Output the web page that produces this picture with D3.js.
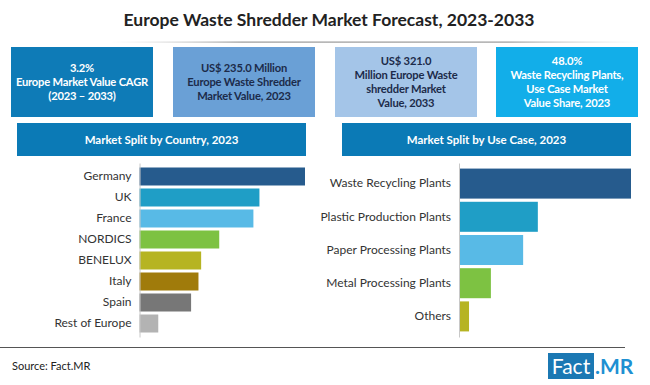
<!DOCTYPE html>
<html>
<head>
<meta charset="utf-8">
<script src="https://cdn.jsdelivr.net/npm/d3@7"></script>
<style>
  body { margin: 0; background: #fff; }
  svg { display: block; font-family: Lato, "Open Sans", sans-serif; }
</style>
</head>
<body>
<script>
// chart values
var countries = ["Germany", "UK", "France", "NORDICS", "BENELUX", "Italy", "Spain", "Rest of Europe"];
var countryShare = [24.7, 17.9, 17.0, 11.9, 9.2, 8.8, 7.7, 2.8];
var countryColors = ["#265b8d", "#1f9ec6", "#58bae6", "#7dc242", "#b6b422", "#a07b0b", "#777777", "#b3b3b3"];

var useCases = ["Waste Recycling Plants", "Plastic Production Plants", "Paper Processing Plants", "Metal Processing Plants", "Others"];
var useCaseShare = [48.0, 22.0, 17.9, 8.9, 2.8];
var useCaseColors = ["#265b8d", "#1f9ec6", "#58bae6", "#7dc242", "#b6b422"];

var kpiLines = [
    ["3.2%", "Europe Market Value CAGR", "(2023 \u2013 2033)"],
    ["US$ 235.0 Million", "Europe Waste Shredder", "Market Value, 2023"],
    ["US$ 321.0", "Million Europe Waste", "shredder Market", "Value, 2033"],
    ["48.0%", "Waste Recycling Plants,", "Use Case Market", "Value Share, 2023"]
];
var kpiFill = ["#0e7bb7", "#6aa0d6", "#a4c5e8", "#12aee9"];
var kpiText = ["#ffffff", "#1c2b4a", "#1c2b4a", "#ffffff"];

var canvas = d3.select("body").append("svg")
    .attr("width", 650)
    .attr("height", 385);

// title
canvas.append("text")
    .attr("x", 329)
    .attr("y", 26)
    .attr("text-anchor", "middle")
    .attr("font-size", 17.5)
    .attr("font-weight", "bold")
    .attr("fill", "#222")
    .text("Europe Waste Shredder Market Forecast, 2023-2033");

var grad = canvas.append("defs").append("linearGradient")
    .attr("id", "rule");
grad.append("stop").attr("offset", "0%").attr("stop-color", "#ccc").attr("stop-opacity", 0);
grad.append("stop").attr("offset", "25%").attr("stop-color", "#999");
grad.append("stop").attr("offset", "75%").attr("stop-color", "#999");
grad.append("stop").attr("offset", "100%").attr("stop-color", "#ccc").attr("stop-opacity", 0);
canvas.append("rect")
    .attr("x", 110).attr("y", 41.5)
    .attr("width", 530).attr("height", 1.2)
    .attr("fill", "url(#rule)");

// kpi boxes
var boxX = [11, 173, 335, 496];
kpiLines.forEach(function(lines, i){
    canvas.append("rect")
        .attr("x", boxX[i])
        .attr("y", 47)
        .attr("width", 142)
        .attr("height", 70)
        .attr("fill", kpiFill[i]);
    var top = 82 - (lines.length - 1) * 14 / 2;
    lines.forEach(function(t, j){
        canvas.append("text")
            .attr("x", boxX[i] + 71)
            .attr("y", top + j * 14)
            .attr("dy", "0.35em")
            .attr("text-anchor", "middle")
            .attr("font-size", 11.2)
            .attr("letter-spacing", -0.2)
            .attr("font-weight", "bold")
            .attr("fill", kpiText[i])
            .text(t);
    });
});

function panel(x0, title, axisX, rightX, cats, vals, colors, pad){
    canvas.append("rect")
        .attr("x", x0)
        .attr("y", 123)
        .attr("width", 289)
        .attr("height", 33)
        .attr("fill", "#0b7ab6");
    canvas.append("text")
        .attr("x", x0 + 144.5)
        .attr("y", 139.5)
        .attr("dy", "0.35em")
        .attr("text-anchor", "middle")
        .attr("font-size", 11.5)
        .attr("font-weight", "bold")
        .attr("fill", "#fff")
        .text(title);

    var y = d3.scaleBand()
        .domain(cats)
        .range([163, 337])
        .paddingInner(pad[0])
        .paddingOuter(pad[1]);
    var x = d3.scaleLinear()
        .domain([0, d3.max(vals)])
        .range([axisX, rightX]);

    canvas.append("g")
        .selectAll("rect")
        .data(cats)
        .join("rect")
        .attr("x", x(0))
        .attr("y", function(d){ return y(d); })
        .attr("width", function(d, i){ return x(vals[i]) - x(0); })
        .attr("height", y.bandwidth())
        .attr("fill", function(d, i){ return colors[i]; });

    var ax = canvas.append("g")
        .attr("transform", "translate(" + axisX + ",0)")
        .call(d3.axisLeft(y).tickSize(0).tickPadding(8));
    ax.select(".domain").attr("stroke", "#c8c8c8");
    ax.selectAll("text")
        .attr("font-family", "Lato, sans-serif")
        .attr("font-size", 12)
        .attr("fill", "#333");
}

panel(17, "Market Split by Country, 2023", 139.5, 305, countries, countryShare, countryColors, [0.143, 0.214]);
panel(342, "Market Split by Use Case, 2023", 459, 631, useCases, useCaseShare, useCaseColors, [0.096, 0.168]);

// footer
canvas.append("line")
    .attr("x1", 0).attr("x2", 625)
    .attr("y1", 347.5).attr("y2", 347.5)
    .attr("stroke", "#555")
    .attr("stroke-width", 1);
canvas.append("text")
    .attr("x", 12)
    .attr("y", 366)
    .attr("dy", "0.35em")
    .attr("font-size", 11)
    .attr("fill", "#222")
    .text("Source: Fact.MR");

canvas.append("rect")
    .attr("x", 548).attr("y", 353)
    .attr("width", 46).attr("height", 26)
    .attr("fill", "#1b78b3");
canvas.append("text")
    .attr("x", 571).attr("y", 366)
    .attr("dy", "0.36em")
    .attr("text-anchor", "middle")
    .attr("font-size", 21)
    .attr("fill", "#fff")
    .text("Fact");
canvas.append("text")
    .attr("x", 595).attr("y", 366)
    .attr("dy", "0.36em")
    .attr("font-size", 21)
    .attr("font-weight", "bold")
    .attr("fill", "#1e90d2")
    .text(".MR");
</script>
</body>
</html>
